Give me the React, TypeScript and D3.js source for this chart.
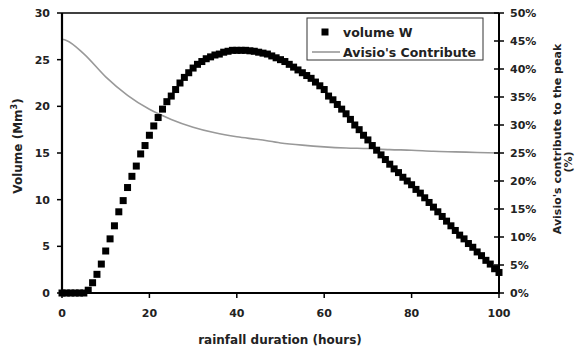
import React from "react";
import * as d3 from "d3";

// Hourly rainfall duration (0..100 h)
const hours: number[] = d3.range(0, 101);

// Flood volume W (Mm³) for each hour of rainfall duration
const volumeW: number[] = [
  0, 0, 0, 0, 0, 0, 0.3, 1.1, 2.0, 3.1,
  4.5, 5.8, 7.2, 8.7, 9.9, 11.3, 12.5, 13.6, 14.9, 15.8,
  16.9, 17.9, 18.8, 19.7, 20.5, 21.1, 21.8, 22.5, 23.1, 23.6,
  24.1, 24.5, 24.8, 25.1, 25.3, 25.5, 25.6, 25.8, 25.9, 26.0,
  26.0, 26.0, 26.0, 25.95, 25.9, 25.8, 25.7, 25.6, 25.4, 25.2,
  25.0, 24.8, 24.5, 24.2, 23.9, 23.6, 23.3, 23.0, 22.6, 22.2,
  21.8, 21.1, 20.7, 20.2, 19.7, 19.2, 18.6, 18.0, 17.5, 16.9,
  16.4, 15.8, 15.3, 14.8, 14.3, 13.8, 13.3, 12.9, 12.4, 12.0,
  11.6, 11.1, 10.7, 10.2, 9.7, 9.2, 8.7, 8.2, 7.7, 7.2,
  6.7, 6.2, 5.8, 5.3, 4.9, 4.4, 4.0, 3.5, 3.1, 2.6,
  2.2,
];

// Avisio's contribution to the peak (%)
const contribHours: number[] = [0, 1, 5, 10, 15, 20, 25, 30, 35, 40, 45, 50, 55, 60, 65, 70, 75, 80, 85, 90, 95, 100];
const contribPct: number[] = [45.3, 45.1, 42.7, 38.6, 35.3, 32.8, 31.0, 29.6, 28.6, 27.9, 27.4, 26.8, 26.4, 26.1, 25.9, 25.8, 25.6, 25.5, 25.3, 25.2, 25.1, 25.0];

const xTicks: number[] = [0, 20, 40, 60, 80, 100];
const yTicks: number[] = [0, 5, 10, 15, 20, 25, 30];
const pctTicks: number[] = [0, 5, 10, 15, 20, 25, 30, 35, 40, 45, 50];

const W = 577;
const H = 348;
const FONT = "'DejaVu Sans', Verdana, sans-serif";

export default function App() {
  const left = 62;
  const right = 499;
  const top = 13;
  const bottom = 293;

  const x = d3.scaleLinear().domain([0, 100]).range([left, right]);
  const y = d3.scaleLinear().domain([0, 30]).range([bottom, top]);
  const yP = d3.scaleLinear().domain([0, 50]).range([bottom, top]);

  const contribLine = d3
    .line<number>()
    .x((_, i) => x(contribHours[i]))
    .y((d) => yP(d))
    .curve(d3.curveMonotoneX);

  const ms = 7;

  return (
    <svg
      width={W}
      height={H}
      style={{ position: "absolute", left: 0, top: 0, background: "#fff" }}
      fontFamily={FONT}
      fontWeight="bold"
    >
      <rect x={0} y={0} width={W} height={H} fill="#fff" />

      {/* Avisio's contribution line */}
      <path d={contribLine(contribPct) || ""} fill="none" stroke="#999" strokeWidth={1.6} />

      {/* Volume markers */}
      {hours.map((h, i) => (
        <rect
          key={h}
          x={x(h) - ms / 2}
          y={y(volumeW[i]) - ms / 2}
          width={ms}
          height={ms}
          fill="#000"
        />
      ))}

      {/* Plot frame */}
      <line x1={left} x2={right} y1={top} y2={top} stroke="#000" strokeWidth={1.5} />
      <line x1={left} x2={left} y1={top} y2={bottom + 1} stroke="#000" strokeWidth={2.2} />
      <line x1={right} x2={right} y1={top} y2={bottom + 1} stroke="#000" strokeWidth={2} />
      <line x1={left - 1} x2={right + 1} y1={bottom} y2={bottom} stroke="#000" strokeWidth={2} />

      {/* Left axis */}
      {yTicks.map((t) => (
        <g key={t}>
          <line x1={left - 5} x2={left} y1={y(t)} y2={y(t)} stroke="#000" strokeWidth={1.5} />
          <text x={50} y={y(t) + 4} fontSize={11} textAnchor="end" fill="#222">
            {t}
          </text>
        </g>
      ))}

      {/* Right axis */}
      {pctTicks.map((t) => (
        <g key={t}>
          <line x1={right - 5} x2={right + 5} y1={yP(t)} y2={yP(t)} stroke="#000" strokeWidth={1.5} />
          <text x={510} y={yP(t) + 4} fontSize={11} textAnchor="start" fill="#222">
            {t}%
          </text>
        </g>
      ))}

      {/* Bottom axis */}
      {xTicks.map((t) => (
        <g key={t}>
          <line x1={x(t)} x2={x(t)} y1={bottom} y2={bottom + 5} stroke="#000" strokeWidth={1.5} />
          <text x={x(t)} y={317} fontSize={11} textAnchor="middle" fill="#222">
            {t}
          </text>
        </g>
      ))}

      {/* Axis titles */}
      <text x={280} y={344} fontSize={12} textAnchor="middle" fill="#222">
        rainfall duration (hours)
      </text>
      <text transform="translate(22,146) rotate(-90)" fontSize={12} textAnchor="middle" fill="#222">
        Volume (Mm<tspan dy={-5} fontSize={8}>3</tspan>
        <tspan dy={5}>)</tspan>
      </text>
      <text transform="translate(561,139) rotate(-90)" fontSize={11} textAnchor="middle" fill="#222">
        Avisio's contribute to the peak
      </text>
      <text transform="translate(572,162) rotate(-90)" fontSize={11} textAnchor="middle" fill="#222">
        (%)
      </text>

      {/* Legend */}
      <rect x={307} y={18} width={176} height={42} fill="#fff" stroke="#333" strokeWidth={1} />
      <rect x={325 - ms / 2} y={32 - ms / 2} width={ms} height={ms} fill="#000" />
      <text x={343} y={37} fontSize={12.5} fill="#222">
        volume W
      </text>
      <line x1={312} x2={340} y1={52} y2={52} stroke="#999" strokeWidth={1.6} />
      <text x={343} y={57} fontSize={12.5} fill="#222">
        Avisio's Contribute
      </text>
    </svg>
  );
}
